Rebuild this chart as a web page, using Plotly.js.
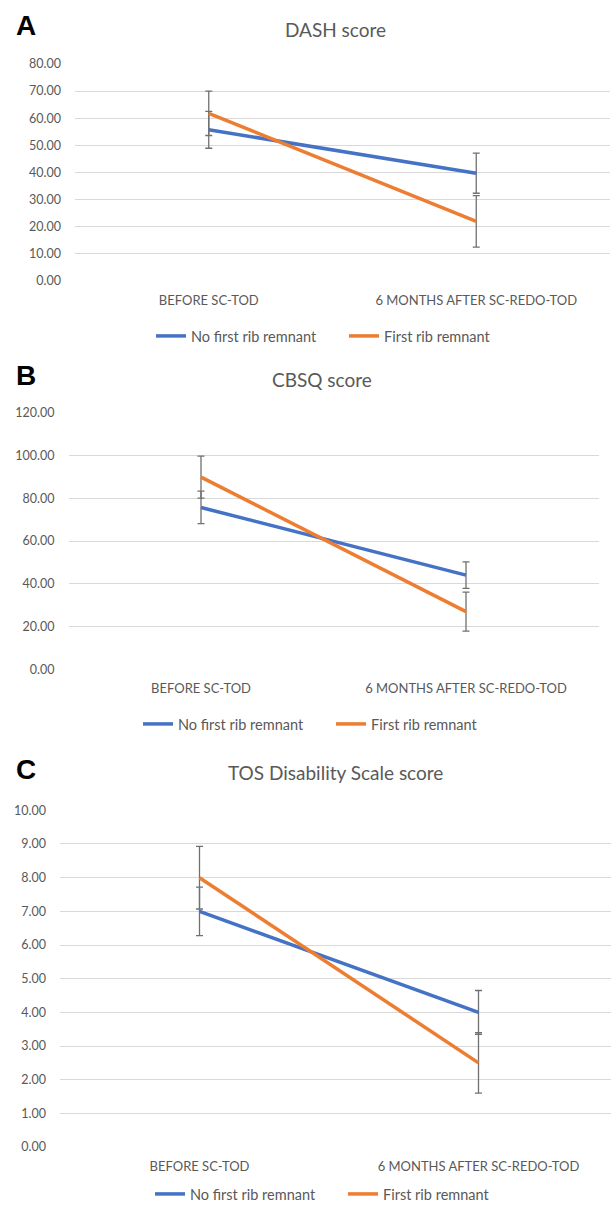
<!DOCTYPE html>
<html>
<head>
<meta charset="utf-8">
<script src="https://cdn.plot.ly/plotly-3.0.1.min.js"></script>
<style>
html,body{margin:0;padding:0;background:#fff;overflow:hidden;width:611px;height:1210px;}
#chart{width:620px;height:1210px;}
</style>
</head>
<body>
<div id="chart"></div>
<script>
// ---- data ----
const categories = ['BEFORE SC-TOD', '6 MONTHS AFTER SC-REDO-TOD'];
const seriesNames = ['No first rib remnant', 'First rib remnant'];

const dashNoRib = [55.7, 39.7];
const dashNoRibErr = [6.8, 7.4];
const dashRib = [61.8, 21.9];
const dashRibErr = [8.2, 9.5];

const cbsqNoRib = [75.7, 44.1];
const cbsqNoRibErr = [7.6, 6.2];
const cbsqRib = [89.9, 27.0];
const cbsqRibErr = [9.8, 9.1];

const tosNoRib = [7.0, 4.0];
const tosNoRibErr = [0.72, 0.65];
const tosRib = [8.0, 2.5];
const tosRibErr = [0.93, 0.9];

const panelTitles = ['DASH score', 'CBSQ score', 'TOS Disability Scale score'];
const panelLetters = ['A', 'B', 'C'];
const yTicksA = [0, 10, 20, 30, 40, 50, 60, 70, 80];
const yTicksB = [0, 20, 40, 60, 80, 100, 120];
const yTicksC = [0, 1, 2, 3, 4, 5, 6, 7, 8, 9, 10];

// ---- layout geometry (pixels) ----
const W = 620, H = 1210;
const BLUE = '#4472C4', ORANGE = '#ED7D31', GREY = '#595959', GRID = '#d9d9d9';
const FONT = 'Lato, "Open Sans", sans-serif';

const panels = [
  {x0: 75, x1: 610, yTop: 64, yBot: 281, range: [0, 80], ticks: yTicksA,
   data: [dashNoRib, dashRib], err: [dashNoRibErr, dashRibErr],
   title: {x: 335, y: 30}, letter: {x: 26, y: 26}, legend: {x: 193, y: 336}},
  {x0: 68.5, x1: 598.5, yTop: 413, yBot: 670, range: [0, 120], ticks: yTicksB,
   data: [cbsqNoRib, cbsqRib], err: [cbsqNoRibErr, cbsqRibErr],
   title: {x: 322, y: 380}, letter: {x: 26, y: 376}, legend: {x: 180, y: 724}},
  {x0: 60, x1: 618, yTop: 811, yBot: 1148, range: [0, 10], ticks: yTicksC,
   data: [tosNoRib, tosRib], err: [tosNoRibErr, tosRibErr],
   title: {x: 335, y: 773}, letter: {x: 26, y: 770}, legend: {x: 192, y: 1195}}
];

const px = v => v / W;
const py = v => 1 - v / H;

const traces = [];
const layout = {
  width: W, height: H,
  margin: {l: 0, r: 0, t: 0, b: 0},
  paper_bgcolor: '#fff', plot_bgcolor: '#fff',
  font: {family: FONT, color: GREY, size: 12},
  annotations: [],
  showlegend: true
};

panels.forEach((p, i) => {
  const n = i + 1;
  const xa = n === 1 ? 'x' : 'x' + n;
  const ya = n === 1 ? 'y' : 'y' + n;
  const lg = n === 1 ? 'legend' : 'legend' + n;
  [0, 1].forEach(s => {
    traces.push({
      type: 'scatter', mode: 'lines',
      x: categories, y: p.data[s],
      name: seriesNames[s],
      xaxis: xa, yaxis: ya, legend: lg,
      line: {color: s === 0 ? BLUE : ORANGE, width: 3.5},
      error_y: {type: 'data', array: p.err[s], symmetric: true, visible: true,
                color: '#707070', thickness: 1.3, width: 3.5},
      hoverinfo: 'skip'
    });
  });
  layout['xaxis' + (n === 1 ? '' : n)] = {
    domain: [px(p.x0), px(p.x1)], anchor: ya, type: 'category',
    range: [-0.5, 1.5], showgrid: false, zeroline: false, showline: false,
    ticks: '', tickfont: {size: 13, color: GREY, family: FONT},
    ticklabelstandoff: 10, fixedrange: true
  };
  layout['yaxis' + (n === 1 ? '' : n)] = {
    domain: [py(p.yBot), py(p.yTop)], anchor: xa,
    range: p.range, tickvals: p.ticks, tickformat: '.2f',
    showgrid: true, gridcolor: GRID, gridwidth: 1,
    zeroline: false, showline: false, ticks: '',
    tickfont: {size: 12.5, color: GREY, family: FONT},
    ticklabelstandoff: 13, fixedrange: true
  };
  layout[lg] = {
    orientation: 'h', x: px(p.legend.x - 42), y: py(p.legend.y),
    xanchor: 'left', yanchor: 'middle',
    font: {size: 14.5, color: GREY, family: FONT},
    bgcolor: 'rgba(0,0,0,0)', entrywidth: 148, entrywidthmode: 'pixels',
    tracegroupgap: 0
  };
  layout.annotations.push({
    text: panelTitles[i], x: px(p.title.x), y: py(p.title.y),
    xref: 'paper', yref: 'paper', xanchor: 'center', yanchor: 'middle',
    showarrow: false, font: {size: 19, color: GREY, family: FONT}
  });
  layout.annotations.push({
    text: '<b>' + panelLetters[i] + '</b>', x: px(p.letter.x), y: py(p.letter.y),
    xref: 'paper', yref: 'paper', xanchor: 'center', yanchor: 'middle',
    showarrow: false, font: {size: 28, color: '#000', family: '"Liberation Sans", Arial, sans-serif'}
  });
});

Plotly.newPlot('chart', traces, layout, {staticPlot: true, displayModeBar: false});
</script>
</body>
</html>
